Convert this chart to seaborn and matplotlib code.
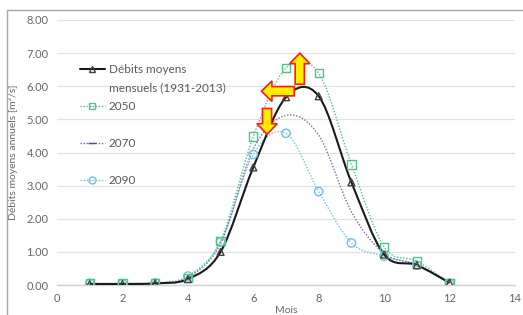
import numpy as np
import pandas as pd
import matplotlib
matplotlib.use("Agg")
import matplotlib.pyplot as plt
import seaborn as sns
from matplotlib.path import Path
from matplotlib.patches import PathPatch, FancyArrow, Rectangle
from matplotlib.lines import Line2D
from matplotlib.ticker import FormatStrFormatter

# ---- data ----
months = [1, 2, 3, 4, 5, 6, 7, 8, 9, 10, 11, 12]
hist = [0.03, 0.03, 0.05, 0.18, 1.00, 3.55, 5.67, 5.70, 3.10, 0.92, 0.60, 0.07]
s2050 = [0.05, 0.05, 0.06, 0.22, 1.33, 4.48, 6.55, 6.39, 3.64, 1.15, 0.72, 0.06]
s2070 = [0.04, 0.04, 0.05, 0.24, 1.25, 4.10, 5.12, 4.52, 2.21, 0.95, 0.62, 0.05]
s2090 = [0.05, 0.04, 0.06, 0.27, 1.30, 3.94, 4.58, 2.82, 1.27, 0.87, 0.60, 0.05]
labels = ["Débits moyens", "2050", "2070", "2090"]
label_line2 = "mensuels (1931-2013)"
x_ticks = [0, 2, 4, 6, 8, 10, 12, 14]
y_ticks = [0, 1, 2, 3, 4, 5, 6, 7, 8]

sns.set_theme(style="white")
plt.rcParams['font.family'] = ['Lato', 'DejaVu Sans']

fig = plt.figure(figsize=(5.23, 3.15), dpi=100)
ax = fig.add_axes([57/523, 30/315, (515-57)/523, (285-20)/315])

# outer border (left & top of the chart frame)
fig.patches.append(Rectangle((7/523, -0.1), 1.2, (315-10)/315 + 0.1,
                             transform=fig.transFigure, fill=False,
                             edgecolor="#a6a6a6", linewidth=1.0, zorder=0))

series = [
    dict(y=hist, color="#1a1a1a", ls="-", lw=1.5, marker="^", ms=5, mec="#404040"),
    dict(y=s2050, color="#4fc38a", ls=(0, (1, 1.2)), lw=1.0, marker="s", ms=6, mec="#4fc38a"),
    dict(y=s2070, color="#7a6aae", ls=(0, (1, 1.2)), lw=1.0, marker="_", ms=7, mec="#5a4a8e"),
    dict(y=s2090, color="#6fc0da", ls=(0, (1, 1.2)), lw=1.0, marker="o", ms=6, mec="#6fc0da"),
]


def smooth_path(xs, ys):
    pts = np.column_stack([xs, ys]).astype(float)
    n = len(pts)
    verts = [pts[0]]
    codes = [Path.MOVETO]
    for i in range(n - 1):
        p0 = pts[max(i - 1, 0)]
        p1 = pts[i]
        p2 = pts[i + 1]
        p3 = pts[min(i + 2, n - 1)]
        c1 = p1 + (p2 - p0) / 6.0
        c2 = p2 - (p3 - p1) / 6.0
        verts += [c1, c2, p2]
        codes += [Path.CURVE4] * 3
    return Path(verts, codes)


for k in [3, 2, 1, 0]:
    s = series[k]
    patch = PathPatch(smooth_path(months, s["y"]), fill=False, edgecolor=s["color"],
                      linewidth=s["lw"], linestyle=s["ls"], zorder=3 + (k == 0))
    ax.add_patch(patch)
    df = pd.DataFrame({"Mois": months, "v": s["y"]})
    sns.scatterplot(data=df, x="Mois", y="v", ax=ax, marker=s["marker"], s=s["ms"] ** 2,
                    facecolors="none", edgecolor=s["mec"], color=s["mec"],
                    linewidth=1.0, zorder=5, legend=False)

handles = []
for s in series:
    handles.append(Line2D([0], [0], color=s["color"], linestyle=s["ls"], linewidth=s["lw"],
                          marker=s["marker"], markersize=s["ms"] - 1, markerfacecolor="none",
                          markeredgecolor=s["mec"]))

ax.set_xlim(0, 14)
ax.set_ylim(0, 8)
ax.set_xticks(x_ticks)
ax.set_yticks(y_ticks)
ax.yaxis.set_major_formatter(FormatStrFormatter("%.2f"))
ax.grid(axis="y", color="#e3e3e3", linewidth=0.9)
ax.grid(axis="x", visible=False)
for sp in ["top", "right", "left"]:
    ax.spines[sp].set_visible(False)
ax.spines["bottom"].set_color("#d0d0d0")
ax.spines["bottom"].set_linewidth(1.0)
ax.tick_params(axis="both", labelsize=8, colors="#666666", length=0, pad=6)
ax.set_xlabel("Mois", fontsize=7.5, color="#666666", labelpad=1)
ax.set_ylabel("Débits moyens annuels [m³/s]", fontsize=7.5, color="#666666", labelpad=6)

leg = ax.legend(handles, labels, loc="upper left", bbox_to_anchor=((80-57)/458, (285-64)/265),
                frameon=False, fontsize=8.5, labelspacing=2.2, handlelength=2.1,
                handletextpad=0.35, borderpad=0, borderaxespad=0, labelcolor="#595959")

# second line of the first legend label
fig.canvas.draw()
t0 = leg.get_texts()[0]
bb = t0.get_window_extent(renderer=fig.canvas.get_renderer())
inv = fig.transFigure.inverted()
x0, y0 = inv.transform((bb.x0, bb.y0 - 18))
fig.text(x0, y0, label_line2, fontsize=8.5, color="#595959", va="bottom", ha="left")

# annotation arrows (yellow with red outline)
arrow_kw = dict(width=0.28, head_width=0.62, head_length=0.32, length_includes_head=True,
                facecolor="#ffee00", edgecolor="#ff1a1a", linewidth=1.2, zorder=8)
ax.add_patch(FancyArrow(7.42, 6.06, 0, 0.94, **arrow_kw))
ax.add_patch(FancyArrow(7.25, 5.85, -1.0, 0, **arrow_kw))
ax.add_patch(FancyArrow(6.42, 5.33, 0, -0.78, **arrow_kw))

fig.savefig("out.png", dpi=100)
